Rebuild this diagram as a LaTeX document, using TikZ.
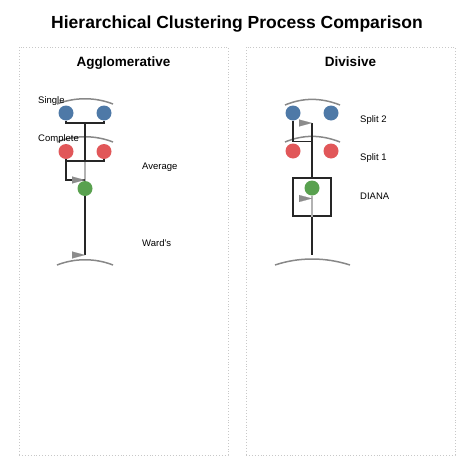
\documentclass[tikz,border=0pt]{standalone}
\usepackage{fontspec}
\setmainfont{Liberation Sans}
\usetikzlibrary{arrows.meta}
\definecolor{tblue}{HTML}{4E79A7}
\definecolor{tred}{HTML}{E15759}
\definecolor{tgreen}{HTML}{59A14F}
\definecolor{panelgray}{HTML}{C8C8C8}
\definecolor{arcgray}{HTML}{888888}
\definecolor{tipgray}{HTML}{8C8C8C}
\begin{document}
\begin{tikzpicture}[x=1pt,y=-1pt,
  pt/.style={circle,inner sep=0pt,minimum size=15pt},
  bluept/.style={pt,fill=tblue},
  redpt/.style={pt,fill=tred},
  greenpt/.style={pt,fill=tgreen},
  panel/.style={draw=panelgray,dotted,line width=0.9pt},
  lbl/.style={font=\fontsize{9.5}{11}\selectfont,anchor=west,inner sep=0pt},
  ptitle/.style={font=\bfseries\fontsize{13.5}{16}\selectfont,anchor=base},
  link/.style={draw=black!85,line width=1.7pt},
  glink/.style={draw=black!30,line width=1.3pt},
  arcline/.style={draw=arcgray,line width=1.5pt},
  flag/.style={draw=tipgray,line width=0.1pt,-{Triangle[length=13pt,width=7pt]},color=tipgray},
  boxnode/.style={draw=black!85,line width=1.7pt,minimum size=38pt,inner sep=0pt}]
\useasboundingbox (0,0) rectangle (474,474);
% title
\node[font=\bfseries\fontsize{17.5}{20}\selectfont,anchor=base] (title) at (237,28.5) {Hierarchical Clustering Process Comparison};
% panels
\node[panel,minimum width=209pt,minimum height=408pt,inner sep=0pt] (lp) at (123.5,251) {};
\node[panel,minimum width=209pt,minimum height=408pt,inner sep=0pt] (rp) at (350.5,251) {};
\node[ptitle] (lt) at (123.5,66.5) {Agglomerative};
\node[ptitle] (rt) at (350.5,66.5) {Divisive};

% ===== Agglomerative =====
\draw[arcline] (57,104) .. controls (75,97) and (95,97) .. (113,104);
\draw[arcline] (57,142) .. controls (75,135) and (95,135) .. (113,142);
\draw[arcline] (57,265) .. controls (75,258) and (95,258) .. (113,265);
\node[bluept] (a1) at (66,113) {};
\node[bluept] (a2) at (104,113) {};
\node[redpt] (a3) at (66,151.5) {};
\node[redpt] (a4) at (104,151.5) {};
\node[greenpt] (a5) at (85,188.5) {};
\coordinate (ab1) at (66,123);
\coordinate (ab2) at (104,123);
\coordinate (am1) at (85,123);
\coordinate (ar1) at (66,161);
\coordinate (ar2) at (104,161);
\coordinate (am2) at (85,161);
\coordinate (ac) at (66,180);
\coordinate (am3) at (85,180);
\coordinate (aend) at (85,255);
\coordinate (af1) at (72,180);
\coordinate (af2) at (72,255);
\draw[glink] (am2) -- (a5.north);
\draw[link] (a1.south) -- (ab1) -- (ab2) -- (a2.south);
\draw[link] (am1) -- (am2);
\draw[link] (a3.south) -- (ar1) -- (ar2) -- (a4.south);
\draw[link] (ar1) -- (ac) -- (am3);
\draw[link] (a5.south) -- (aend);
\draw[flag] (af1) -- (am3);
\draw[flag] (af2) -- (aend);
\node[lbl] (l1) at (38,101) {Single};
\node[lbl] (l2) at (38,139) {Complete};
\node[lbl] (l3) at (142,167) {Average};
\node[lbl] (l4) at (142,243) {Ward's};

% ===== Divisive =====
\draw[arcline] (285,105) .. controls (303,97.5) and (321,97.5) .. (340,105);
\draw[arcline] (285,142) .. controls (303,134.5) and (321,134.5) .. (340,142);
\draw[arcline] (275,265) .. controls (299,257) and (325,257) .. (350,265);
\node[bluept] (d1) at (293,113) {};
\node[bluept] (d2) at (331,113) {};
\node[redpt] (d3) at (293,151) {};
\node[redpt] (d4) at (331,151) {};
\node[boxnode] (box) at (312,197) {};
\node[greenpt] (d5) at (312,188) {};
\coordinate (dtop) at (312,123);
\coordinate (dbr) at (293,141.5);
\coordinate (dbm) at (312,141.5);
\coordinate (dend) at (312,255);
\coordinate (df1) at (299,123);
\coordinate (df2) at (299,198.5);
\coordinate (dtip2) at (312,198.5);
\draw[glink] (d5.south) -- (box.south);
\draw[link] (dtop) -- (box.north);
\draw[link] (box.south) -- (dend);
\draw[link] (d1.south) -- (dbr) -- (dbm);
\draw[flag] (df1) -- (dtop);
\draw[flag] (df2) -- (dtip2);
\node[lbl] (s2) at (360,120) {Split 2};
\node[lbl] (s1) at (360,158) {Split 1};
\node[lbl] (dn) at (360,196) {DIANA};
\end{tikzpicture}
\end{document}
